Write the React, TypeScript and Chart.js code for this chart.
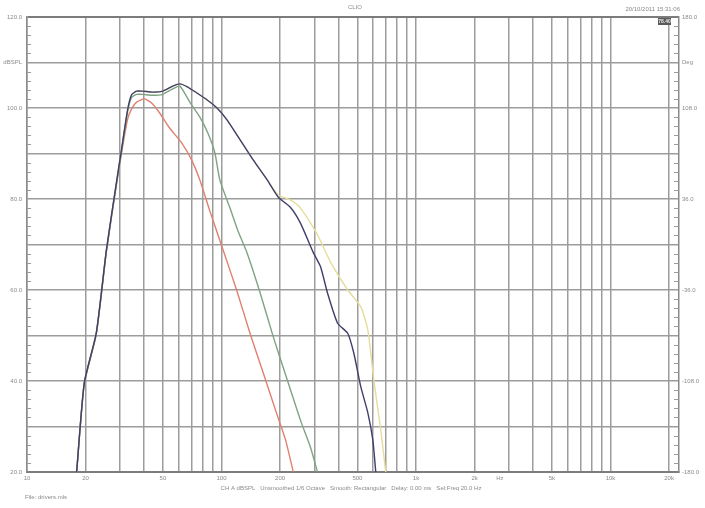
import React, { useEffect, useRef } from "react";
import { Chart, registerables } from "chart.js";
Chart.register(...registerables);

// ---- axes ----
const freqMin = 10;
const freqMax = 22500;
const dbMin = 20;
const dbMax = 120;
const phaseMin = -180;
const phaseMax = 180;

const gridFreqs = [
  10, 20, 30, 40, 50, 60, 70, 80, 90,
  100, 200, 300, 400, 500, 600, 700, 800, 900,
  1000, 2000, 3000, 4000, 5000, 6000, 7000, 8000, 9000,
  10000, 20000,
];
const xTickValues = [10, 20, 50, 100, 200, 500, 1000, 2000, 2700, 5000, 10000, 20000];
const xTickLabels = ["10", "20", "50", "100", "200", "500", "1k", "2k", "Hz", "5k", "10k", "20k"];
const dbLabelValues = [20, 40, 60, 80, 100, 120];
const dbLabels = ["20.0", "40.0", "60.0", "80.0", "100.0", "120.0"];
const phaseLabelValues = [-180, -108, -36, 36, 108, 180];
const phaseLabels = ["-180.0", "-108.0", "-36.0", "36.0", "108.0", "180.0"];

// ---- texts ----
const titleText = "CLIO";
const dateText = "20/10/2011 15:31:06";
const boxText = "78.40";
const footerText = "CH A dBSPL   Unsmoothed 1/6 Octave   Smooth: Rectangular   Delay: 0.00 ms   Sel:Freq 20.0 Hz";
const fileText = "File: drivers.mls";

// ---- series ----
const blueFreq = [18, 19.7, 22.7, 25.6, 28.8, 30.6, 32.9, 34.5, 36.6, 39.3, 44.2, 49.8, 56.1, 61.1, 67.1, 74.7, 84.1, 94.8, 106.7, 124.7, 145.5, 171.8, 195.9, 225.9, 254.6, 297.4, 323, 351, 395.2, 445.5, 478.4, 520.4, 565.5, 600, 621];
const blueDb = [20, 39.6, 50.5, 68.8, 83.5, 90.8, 99.6, 102.9, 103.7, 103.7, 103.5, 103.7, 104.8, 105.3, 104.6, 103.3, 101.8, 100, 97.4, 93, 88.6, 84.2, 80.4, 78.2, 74.7, 68.1, 65.1, 59.3, 52.7, 50.5, 46.2, 38.7, 33, 27, 20];

const greenFreq = [18, 19.7, 22.7, 25.6, 28.8, 30.6, 32.9, 34.5, 36.6, 39.3, 44.2, 49.8, 56.1, 61.1, 68.7, 77.4, 85.1, 92.5, 98, 110.6, 121, 135.5, 158.2, 184.6, 217.9, 254.6, 286.4, 311.6];
const greenDb = [20, 39.4, 50.3, 68.6, 83.3, 90.5, 99.2, 102.3, 103, 103, 102.8, 103, 104.2, 104.8, 101.3, 98, 94.5, 90.1, 84.2, 78, 73.2, 68.1, 59.3, 49.7, 40.2, 31.4, 25.5, 20];

const redFreq = [18, 19.7, 22.7, 25.6, 28.8, 30.6, 32.9, 34.5, 36.6, 40.2, 43.7, 48.1, 54.1, 62.5, 70.2, 77.4, 86.9, 100.6, 119.6, 140.1, 163.8, 191.6, 213.6, 233.9];
const redDb = [20, 39.4, 50.3, 68.5, 83, 90, 97.5, 99.8, 101.3, 102, 101.1, 98.9, 95.6, 92.3, 88.6, 84.2, 77.5, 69.5, 60, 50.5, 41.8, 33, 27, 20];

const yellowFreq = [18, 19.7, 22.7, 25.6, 28.8, 30.6, 32.9, 34.5, 36.6, 39.3, 44.2, 49.8, 56.1, 61.1, 67.1, 74.7, 84.1, 94.8, 106.7, 124.7, 145.5, 171.8, 195.9, 225.9, 254.6, 311.6, 363, 445.5, 520.4, 565.5, 607, 659, 699];
const yellowDb = [20, 39.6, 50.5, 68.8, 83.5, 90.8, 99.6, 102.9, 103.7, 103.7, 103.5, 103.7, 104.8, 105.3, 104.6, 103.3, 101.8, 100, 97.4, 93, 88.6, 84.2, 80.9, 79.8, 78, 72.1, 66.2, 60, 56.3, 51.2, 40.2, 29.2, 20];

const pts = (xs: number[], ys: number[]) => xs.map((x, i) => ({ x, y: ys[i] }));

const FONT = "Arial, 'Liberation Sans', sans-serif";

const decorPlugin = {
  id: "decor",
  afterDraw(chart: any) {
    const { ctx, chartArea } = chart;
    const xs = chart.scales.x;
    const ys = chart.scales.y;
    const yp = chart.scales.y2;
    const { left, right, top, bottom } = chartArea;
    ctx.save();
    // minor ticks
    ctx.strokeStyle = "#9a9a9a";
    ctx.lineWidth = 1;
    for (let v = dbMin; v <= dbMax; v += 2) {
      if (v % 10 === 0) continue;
      const py = Math.round(ys.getPixelForValue(v)) + 0.5;
      ctx.beginPath();
      ctx.moveTo(left, py);
      ctx.lineTo(left + 4, py);
      ctx.stroke();
      ctx.beginPath();
      ctx.moveTo(right - 5, py);
      ctx.lineTo(right, py);
      ctx.stroke();
    }
    ctx.fillStyle = "#8a8a8a";
    ctx.font = `6px ${FONT}`;
    // left labels
    ctx.textAlign = "right";
    ctx.textBaseline = "middle";
    dbLabelValues.forEach((v, i) => {
      ctx.fillText(dbLabels[i], left - 5, ys.getPixelForValue(v));
    });
    ctx.fillText("dBSPL", left - 5, ys.getPixelForValue(110));
    // right labels
    ctx.textAlign = "left";
    phaseLabelValues.forEach((v, i) => {
      ctx.fillText(phaseLabels[i], right + 3, yp.getPixelForValue(v));
    });
    ctx.fillText("Deg", right + 3, yp.getPixelForValue(144));
    // x labels
    ctx.textAlign = "center";
    ctx.textBaseline = "top";
    xTickValues.forEach((v, i) => {
      ctx.fillText(xTickLabels[i], xs.getPixelForValue(v), bottom + 3);
    });
    // title and date
    ctx.textBaseline = "middle";
    ctx.fillText(titleText, (left + right) / 2 + 2, 7);
    ctx.textAlign = "right";
    ctx.fillText(dateText, right + 1, 9);
    // footer
    ctx.textAlign = "center";
    ctx.fillText(footerText, 351, 488);
    ctx.textAlign = "left";
    ctx.fillText(fileText, 25, 497);
    // dark box
    ctx.fillStyle = "#5a5a5a";
    ctx.fillRect(right - 21, top + 1, 13, 7);
    ctx.fillStyle = "#e8e8e8";
    ctx.font = `bold 5px ${FONT}`;
    ctx.textAlign = "center";
    ctx.fillText(boxText, right - 14.5, top + 4.5);
    ctx.restore();
  },
};

export default function App() {
  const ref = useRef<HTMLCanvasElement | null>(null);
  useEffect(() => {
    document.body.style.margin = "0";
    const canvas = ref.current;
    if (!canvas) return;
    const line = (label: string, data: any[], color: string) => ({
      label,
      data,
      borderColor: color,
      backgroundColor: color,
      borderWidth: 1.4,
      pointRadius: 0,
      tension: 0.2,
      fill: false,
    });
    const chart = new Chart(canvas, {
      type: "line",
      data: {
        datasets: [
          line("Driver 1", pts(blueFreq, blueDb), "#3f3f6b"),
          line("Driver 2", pts(greenFreq, greenDb), "#7fa383"),
          line("Driver 3", pts(redFreq, redDb), "#e0806f"),
          line("Driver 4", pts(yellowFreq, yellowDb), "#e6dc9c"),
        ],
      },
      options: {
        animation: false,
        responsive: false,
        maintainAspectRatio: false,
        events: [],
        layout: { padding: { left: 27, right: 26, top: 17, bottom: 36 } },
        plugins: { legend: { display: false }, tooltip: { enabled: false }, title: { display: false } },
        scales: {
          x: {
            type: "logarithmic",
            min: freqMin,
            max: freqMax,
            afterBuildTicks: (s: any) => {
              s.ticks = gridFreqs.map((v) => ({ value: v }));
            },
            ticks: { display: false, autoSkip: false },
            grid: { color: "#9c9c9c", lineWidth: 1.5, drawTicks: false },
            border: { display: true, color: "#7c7c7c", width: 2 },
          },
          y: {
            type: "linear",
            min: dbMin,
            max: dbMax,
            ticks: { display: false, stepSize: 10 },
            grid: {
              color: (c: any) => (c.tick && c.tick.value === dbMax ? "#7c7c7c" : "#9c9c9c"),
              lineWidth: (c: any) => (c.tick && c.tick.value === dbMax ? 2 : 1.5),
              drawTicks: false,
            },
            border: { display: true, color: "#8a8a8a", width: 1.5 },
          },
          y2: {
            type: "linear",
            position: "right",
            min: phaseMin,
            max: phaseMax,
            ticks: { display: false },
            grid: { display: false, drawTicks: false },
            border: { display: true, color: "#8a8a8a", width: 1.5 },
          },
        },
      },
      plugins: [decorPlugin],
    });
    return () => chart.destroy();
  }, []);
  return (
    <div style={{ width: 705, height: 508, background: "#fff" }}>
      <canvas ref={ref} width={705} height={508} style={{ display: "block" }} />
    </div>
  );
}
